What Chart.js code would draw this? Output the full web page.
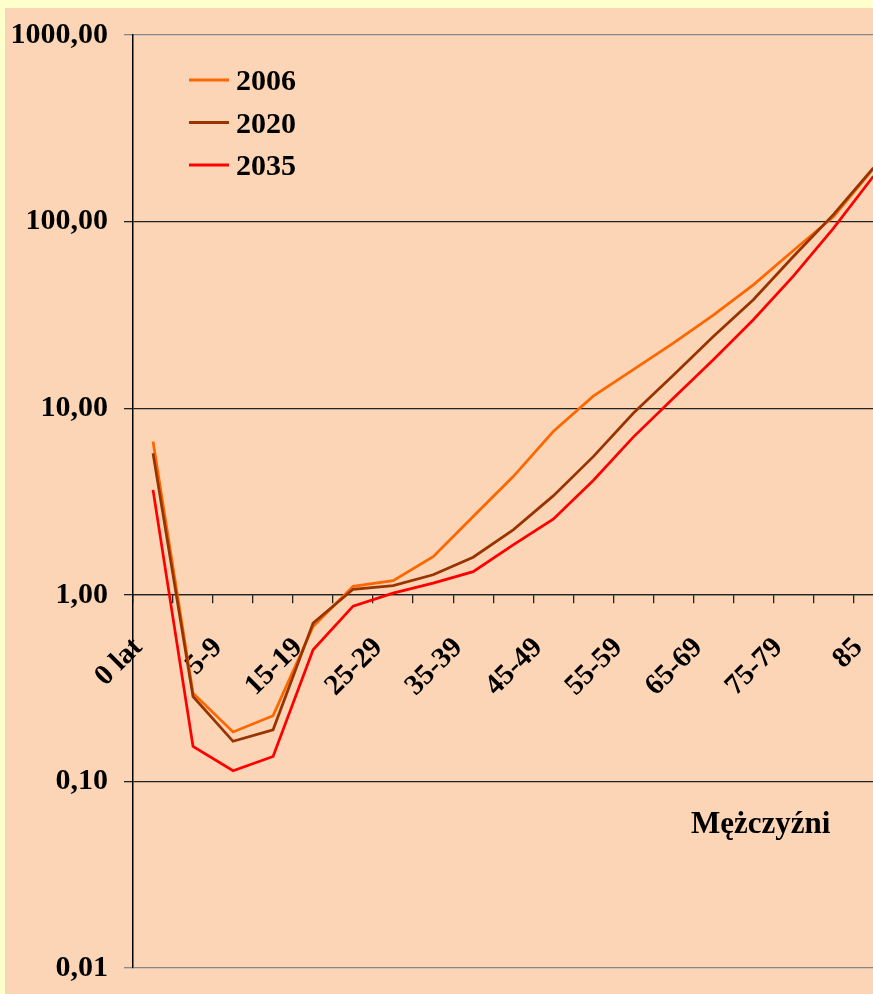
<!DOCTYPE html>
<html>
<head>
<meta charset="utf-8">
<script src="https://cdn.jsdelivr.net/npm/chart.js@4.4.1/dist/chart.umd.min.js"></script>
<style>
  html, body { margin: 0; padding: 0; background: #ffffcc; overflow: hidden; }
  #wrap { position: absolute; left: 0; top: 0; width: 873px; height: 994px; overflow: hidden; }
  #bg { position: absolute; left: 5px; top: 8px; width: 868px; height: 986px; background: #fbd5b5; }
  canvas { position: absolute; left: 0; top: 0; }
</style>
</head>
<body>
<div id="wrap">
  <div id="bg"></div>
  <canvas id="myChart" width="926" height="1002"></canvas>
</div>
<script>
// grupy wieku
const categories = ['0 lat', '1-4', '5-9', '10-14', '15-19', '20-24', '25-29', '30-34', '35-39',
  '40-44', '45-49', '50-54', '55-59', '60-64', '65-69', '70-74', '75-79', '80-84', '85'];

// współczynniki zgonów - mężczyźni
const y2006 = [6.63, 0.297, 0.184, 0.225, 0.676, 1.11, 1.19, 1.60, 2.63, 4.3, 7.5, 11.6, 16.1, 22.3, 31.5, 45.8, 70, 106, 192];
const y2020 = [5.74, 0.285, 0.164, 0.189, 0.705, 1.07, 1.12, 1.28, 1.59, 2.23, 3.39, 5.5, 9.4, 15.0, 24.2, 38.1, 65, 109, 194];
const y2035 = [3.65, 0.154, 0.114, 0.136, 0.507, 0.87, 1.02, 1.155, 1.33, 1.85, 2.54, 4.1, 7.0, 11.3, 18.2, 29.8, 51, 92, 175];

const yTicks = [0.01, 0.1, 1, 10, 100, 1000];
const seriesNames = ['2006', '2020', '2035'];
const colors = ['#ff6600', '#993300', '#ff0000'];

const serif = '"Liberation Serif", "Times New Roman", serif';

// legenda i podpis wewnątrz wykresu
const insideLegend = {
  id: 'insideLegend',
  afterDraw(chart) {
    const ctx = chart.ctx;
    ctx.save();
    chart.data.datasets.forEach((ds, i) => {
      const y = 80 + i * 42.5;
      ctx.strokeStyle = ds.borderColor;
      ctx.lineWidth = 3;
      ctx.beginPath();
      ctx.moveTo(189, y);
      ctx.lineTo(229, y);
      ctx.stroke();
      ctx.fillStyle = '#000';
      ctx.font = 'bold 30px ' + serif;
      ctx.textBaseline = 'alphabetic';
      ctx.fillText(ds.label, 236, y + 10);
    });
    ctx.font = 'bold 31px ' + serif;
    ctx.fillText('Mężczyźni', 691, 833);
    ctx.restore();
  }
};

const ctx = document.getElementById('myChart').getContext('2d');
const myChart = new Chart(ctx, {
  type: 'line',
  data: {
    labels: categories,
    datasets: [
      { label: seriesNames[0], data: y2006, borderColor: colors[0], order: 2 },
      { label: seriesNames[1], data: y2020, borderColor: colors[1], order: 1 },
      { label: seriesNames[2], data: y2035, borderColor: colors[2], order: 3 }
    ]
  },
  options: {
    responsive: false,
    animation: false,
    layout: { padding: { left: 0, top: 35, right: 0, bottom: 0 } },
    elements: {
      line: { borderWidth: 2.75, tension: 0, fill: false },
      point: { radius: 0 }
    },
    plugins: {
      legend: { display: false },
      tooltip: { enabled: false }
    },
    scales: {
      x: {
        type: 'category',
        position: { y: 1 },
        offset: true,
        grid: { drawOnChartArea: false, drawTicks: true, tickLength: 8, color: '#222', lineWidth: 1.3, offset: true },
        border: { display: true, color: '#222', width: 1.3 },
        ticks: {
          autoSkip: false,
          minRotation: 45,
          maxRotation: 45,
          padding: 28,
          labelOffset: -15,
          color: '#000',
          font: { family: serif, size: 29, weight: 'bold' },
          callback: (v, i) => (i % 2 === 0 ? categories[i] : '')
        }
      },
      y: {
        type: 'logarithmic',
        min: 0.01,
        max: 1000,
        afterBuildTicks: (s) => { s.ticks = yTicks.map(v => ({ value: v, major: false })); },
        afterFit: (s) => { s.width = 133; },
        grid: {
          color: (c) => (c.tick && (c.tick.value === 1000 || c.tick.value === 0.01) ? '#888' : '#222'),
          lineWidth: 1.3,
          tickLength: 9,
          drawTicks: true
        },
        border: { display: true, color: '#000', width: 1.5 },
        ticks: {
          padding: 16,
          color: '#000',
          font: { family: serif, size: 30, weight: 'bold' },
          callback: (v) => Number(v).toFixed(2).replace('.', ',')
        }
      }
    }
  },
  plugins: [insideLegend]
});
</script>
</body>
</html>
